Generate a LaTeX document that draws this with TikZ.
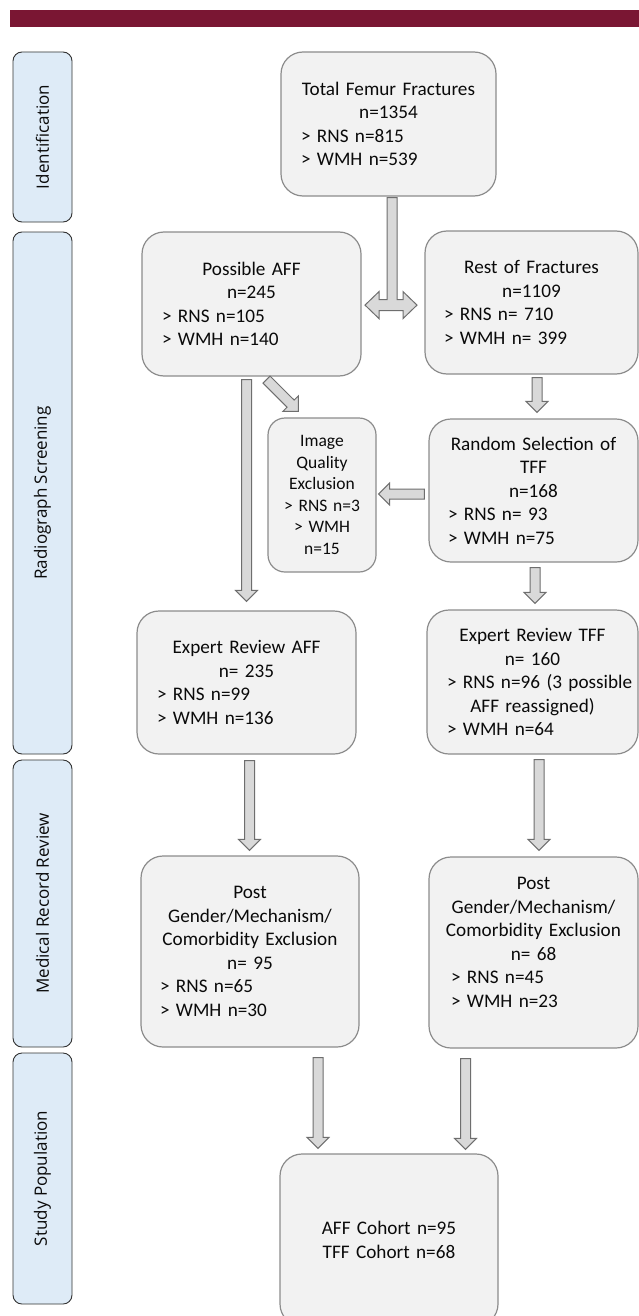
\documentclass[tikz,border=0pt]{standalone}
\usepackage{fontspec}
\setmainfont{Carlito}
\newfontfamily\sidefont{Open Sans}
\usetikzlibrary{calc}
\definecolor{barred}{HTML}{7A1633}
\definecolor{sidefill}{HTML}{DEEBF7}
\definecolor{sideline}{HTML}{333333}
\definecolor{boxfill}{HTML}{F2F2F2}
\definecolor{boxline}{HTML}{8C8C8C}
\definecolor{arrfill}{HTML}{D9D9D9}
\definecolor{arrline}{HTML}{6E6E6E}
\definecolor{txt}{HTML}{0A0A0A}
\newcommand{\bodyfont}{\fontsize{19.2}{23.5}\selectfont}
\newcommand{\smallbodyfont}{\fontsize{17.5}{21.5}\selectfont}
\newcommand{\sidelabelfont}{\sidefont\fontsize{17}{20}\selectfont}
\newcommand{\barrow}[2]{%
  \coordinate (bh) at ($(#2)!11pt!(#1)$);
  \draw[blockarrow] ($(#1)!5pt!90:(#2)$) -- ($(bh)!5pt!90:(#2)$) -- ($(bh)!11pt!90:(#2)$)
    -- (#2) -- ($(bh)!11pt!-90:(#2)$) -- ($(bh)!5pt!-90:(#2)$) -- ($(#1)!5pt!-90:(#2)$) -- cycle;}
\begin{document}
\begin{tikzpicture}[x=1pt,y=-1pt,
  mainbox/.style={draw=boxline, fill=boxfill, line width=1.2pt, rounded corners=22pt,
    inner sep=0pt, font=\bodyfont, text=txt,
    execute at begin node={\setlength{\parindent}{0pt}}},
  sidebox/.style={draw=sideline, fill=sidefill, line width=0.9pt, rounded corners=9pt,
    inner sep=0pt, rotate=90, font=\sidelabelfont, text=txt},
  blockarrow/.style={draw=arrline, fill=arrfill, line width=1pt, line join=miter}]
\useasboundingbox (0,0) rectangle (639,1316);
\clip (0,0) rectangle (639,1316);
\fill[white] (0,0) rectangle (639,1316);
% top bar
\fill[barred] (10,10) rectangle (639,27);
% side phase labels
\node[sidebox, minimum width=170, minimum height=59] (sid) at (42.5,137) {Identification};
\node[sidebox, minimum width=522, minimum height=59] (srad) at (42.5,493) {Radiograph Screening};
\node[sidebox, minimum width=287, minimum height=59] (smed) at (42.5,903.5) {Medical Record Review};
\node[sidebox, minimum width=251, minimum height=59] (sstu) at (42.5,1178.5) {Study Population};
% main boxes
\node[mainbox, minimum width=215, minimum height=144, text width=175] (total) at (388.5,124)
  {{\centering Total Femur Fractures\\ n=1354\par}\raggedright > RNS n=815\\ > WMH n=539};
\node[mainbox, minimum width=219, minimum height=144, text width=179] (aff) at (251.5,304)
  {{\centering Possible AFF\\ n=245\par}\raggedright > RNS n=105\\ > WMH n=140};
\node[mainbox, minimum width=213, minimum height=143, text width=175] (rest) at (531.5,302.5)
  {{\centering Rest of Fractures\\ n=1109\par}\raggedright > RNS n= 710\\ > WMH n= 399};
\node[mainbox, rounded corners=17pt, minimum width=108, minimum height=154, text width=100,
  font=\smallbodyfont] (iq) at (322,495)
  {\centering Image\\ Quality\\ Exclusion\\ > RNS n=3\\ > WMH\\ n=15\par};
\node[mainbox, minimum width=209, minimum height=143, text width=171] (rand) at (533.5,490.5)
  {{\centering Random Selection of\\ TFF\\ n=168\par}\raggedright > RNS n= 93\\ > WMH n=75};
\node[mainbox, minimum width=219, minimum height=143, text width=179] (eaff) at (246.5,682.5)
  {{\centering Expert Review AFF\\ n= 235\par}\raggedright > RNS n=99\\ > WMH n=136};
\node[mainbox, minimum width=211, minimum height=144, text width=171] (etff) at (532.5,682)
  {{\centering Expert Review TFF\\ n= 160\par}\raggedright\mbox{> RNS n=96 (3 possible}\par
   {\centering AFF reassigned)\par}\raggedright > WMH n=64};
\node[mainbox, minimum width=218, minimum height=191, text width=180] (paff) at (250,951.5)
  {{\centering Post\\ Gender/Mechanism/\\ Comorbidity Exclusion\\ n= 95\par}\raggedright > RNS n=65\\ > WMH n=30};
\node[mainbox, minimum width=209, minimum height=191, text width=187] (ptff) at (533.5,952.5)
  {{\centering Post\\ Gender/Mechanism/\\ Comorbidity Exclusion\\ n= 68\par}\raggedright\leftskip=11pt > RNS n=45\\ > WMH n=23\par\vspace{20pt}};
\node[mainbox, minimum width=218, minimum height=172, text width=178] (final) at (389,1240)
  {\centering AFF Cohort n=95\\ TFF Cohort n=68\par};
% T-shaped double arrow from total
\draw[blockarrow] ($(total.south)+(-1.5,1)$) -- ++(10,0) -- ++(0,102) -- ++(6,0) -- ++(0,-8)
  -- ++(14,13.5) -- ++(-14,13.5) -- ++(0,-8) -- ++(-24,0) -- ++(0,8) -- ++(-14,-13.5)
  -- ++(14,-13.5) -- ++(0,8) -- ++(8,0) -- cycle;
% block arrow end points
\coordinate (a1) at ($(aff.south)+(-5,3)$);
\coordinate (a2) at ($(eaff.north)+(0,-9)$);
\coordinate (d1) at ($(aff.south)+(15,3)$);
\coordinate (d2) at ($(iq.north west)+(31,-6)$);
\coordinate (r1) at ($(rest.south)+(5.5,3)$);
\coordinate (r2) at ($(rand.north)+(3.5,-6)$);
\coordinate (q1) at ($(rand.west)+(-4,3.5)$);
\coordinate (q2) at ($(iq.east)+(2,-1)$);
\coordinate (e1) at ($(rand.south)+(1.5,5)$);
\coordinate (e2) at ($(etff.north)+(2.5,-6)$);
\coordinate (p1) at ($(eaff.south)+(3,6)$);
\coordinate (p2) at ($(paff.north)+(-0.5,-5)$);
\coordinate (t1) at ($(etff.south)+(6.5,5)$);
\coordinate (t2) at ($(ptff.north)+(5.5,-6)$);
\coordinate (f1) at ($(paff.south)+(68,10)$);
\coordinate (f2) at ($(final.north)+(-71,-5)$);
\coordinate (g1) at ($(ptff.south)+(-68,10)$);
\coordinate (g2) at ($(final.north)+(76.5,-4)$);
\barrow{a1}{a2}
\barrow{d1}{d2}
\barrow{r1}{r2}
\barrow{q1}{q2}
\barrow{e1}{e2}
\barrow{p1}{p2}
\barrow{t1}{t2}
\barrow{f1}{f2}
\barrow{g1}{g2}
\end{tikzpicture}
\end{document}
